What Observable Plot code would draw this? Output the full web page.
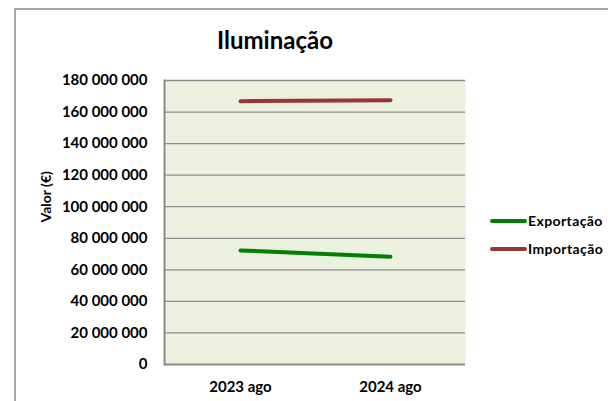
<!DOCTYPE html>
<html>
<head>
<meta charset="utf-8">
<script src="https://cdn.jsdelivr.net/npm/d3@7"></script>
<script src="https://cdn.jsdelivr.net/npm/@observablehq/plot@0.6"></script>
<style>
  html, body { margin: 0; padding: 0; background: #fff; overflow: hidden; }
  #wrap { position: relative; width: 608px; height: 401px; overflow: hidden; font-family: Lato, "Open Sans", sans-serif; }
  #border { position: absolute; left: 14px; top: 8px; width: 800px; height: 600px; border: 2px solid #a5a5a5; box-sizing: border-box; }
  #title { position: absolute; left: 175px; width: 200px; top: 28px; text-align: center; font-weight: bold; font-size: 24px; color: #000; line-height: 1; }
  #chart { position: absolute; left: 0; top: 0; }
  .leg { position: absolute; left: 490px; font-weight: bold; font-size: 14px; letter-spacing: 0.4px; display: flex; align-items: center; white-space: nowrap; color: #000; }
  .leg span.sw { display: inline-block; width: 37px; height: 4px; border-radius: 2px; margin-right: 1px; }
</style>
</head>
<body>
<div id="wrap">
  <div id="border"></div>
  <div id="chart"></div>
  <div id="title"></div>
  <div id="legend"></div>
</div>
<script>
const titleText = "Iluminação";
const yLabel = "Valor (€)";
const periods = ["2023 ago", "2024 ago"];
const seriesNames = ["Exportação", "Importação"];
const exportacao = [72300000, 68300000];
const importacao = [166900000, 167500000];
const seriesColors = ["#008000", "#953735"];
const yTicks = [0, 20000000, 40000000, 60000000, 80000000, 100000000, 120000000, 140000000, 160000000, 180000000];

const data = [];
periods.forEach((p, i) => {
  data.push({period: p, series: seriesNames[0], value: exportacao[i]});
  data.push({period: p, series: seriesNames[1], value: importacao[i]});
});

const fmt = d3.formatLocale({decimal: ",", thousands: " ", grouping: [3], currency: ["", " €"]}).format(",d");

const plot = Plot.plot({
  width: 608,
  height: 401,
  marginLeft: 164,
  marginRight: 143,
  marginTop: 80,
  marginBottom: 37,
  style: {fontFamily: "Lato, 'Open Sans', sans-serif", fontWeight: "bold", fontSize: "15px", color: "#000", background: "transparent"},
  x: {type: "point", domain: periods, padding: 0.5, label: null, tickSize: 0, tickPadding: 17},
  y: {domain: [0, 180000000], ticks: yTicks, tickFormat: fmt, tickSize: 0, tickPadding: 17, label: null},
  color: {domain: seriesNames, range: seriesColors},
  marks: [
    Plot.frame({fill: "#ebf1de", stroke: null}),
    Plot.ruleY(yTicks.filter(d => d > 0), {stroke: "#8c8c8c", strokeWidth: 1.3}),
    Plot.ruleY([0], {stroke: "#8c8c8c", strokeWidth: 2}),
    Plot.frame({anchor: "left", stroke: "#8c8c8c", strokeWidth: 2}),
    Plot.line(data, {x: "period", y: "value", z: "series", stroke: "series", strokeWidth: 4, strokeLinecap: "round"}),
    Plot.text([yLabel], {frameAnchor: "left", dx: -118, rotate: -90, text: d => d, fontSize: 14, fontWeight: "bold", fill: "#000"})
  ]
});
document.getElementById("chart").appendChild(plot);
document.getElementById("title").textContent = titleText;

const legend = document.getElementById("legend");
const legendTops = [212, 240];
seriesNames.forEach((name, i) => {
  const row = document.createElement("div");
  row.className = "leg";
  row.style.top = legendTops[i] + "px";
  const sw = document.createElement("span");
  sw.className = "sw";
  sw.style.background = seriesColors[i];
  row.appendChild(sw);
  row.appendChild(document.createTextNode(name));
  legend.appendChild(row);
});
</script>
</body>
</html>
